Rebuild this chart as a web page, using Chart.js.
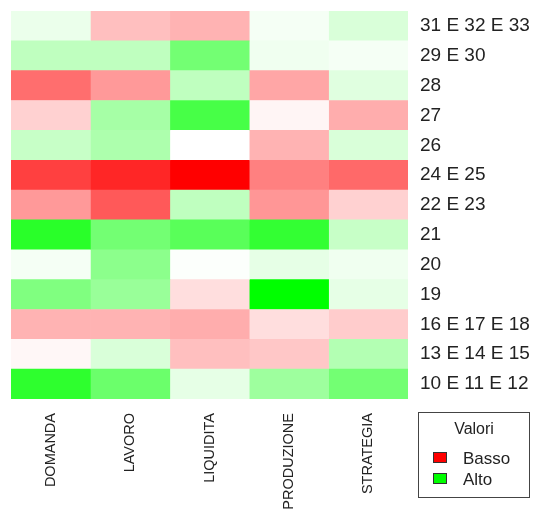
<!DOCTYPE html>
<html>
<head>
<meta charset="utf-8">
<script src="https://cdn.jsdelivr.net/npm/chart.js@4.4.1/dist/chart.umd.min.js"></script>
<style>
  body { margin: 0; background: #fff; }
  #wrap { position: relative; width: 535px; height: 511px; }
  #legend {
    position: absolute; left: 418px; top: 412px; width: 112px; height: 86px;
    border: 1px solid #444; box-sizing: border-box;
    font-family: "Liberation Sans", Arial, sans-serif; color: #222;
  }
  #legend .title { position: absolute; left: 0; right: 0; top: 7px; text-align: center; font-size: 16px; }
  #legend .item { position: absolute; left: 14px; font-size: 17px; line-height: 20px; }
  #legend .sw { display: inline-block; width: 12px; height: 9px; border: 1px solid #333; margin-right: 16px; vertical-align: 1px; }
</style>
</head>
<body>
<div id="wrap">
  <canvas id="chart" width="535" height="511"></canvas>
  <div id="legend">
    <div class="title">Valori</div>
    <div class="item" style="top:36px"><span class="sw" style="background:#f00"></span>Basso</div>
    <div class="item" style="top:57px"><span class="sw" style="background:#0f0"></span>Alto</div>
  </div>
</div>
<script>
// rows, top to bottom
const rows = ['31 E 32 E 33', '29 E 30', '28', '27', '26', '24 E 25', '22 E 23',
  '21', '20', '19', '16 E 17 E 18', '13 E 14 E 15', '10 E 11 E 12']
const columns = ['DOMANDA', 'LAVORO', 'LIQUIDITA', 'PRODUZIONE', 'STRATEGIA']

// values: -1 = basso (red), +1 = alto (green)
const domanda    = [0.08, 0.25, -0.57, -0.18, 0.22, -0.75, -0.40, 0.84, 0.04, 0.50, -0.30, -0.03, 0.82]
const lavoro     = [-0.25, 0.25, -0.40, 0.35, 0.32, -0.85, -0.65, 0.55, 0.45, 0.40, -0.30, 0.15, 0.58]
const liquidita  = [-0.30, 0.55, 0.25, 0.72, 0.00, -1.00, 0.25, 0.65, 0.01, -0.13, -0.32, -0.25, 0.10]
const produzione = [0.04, 0.06, -0.35, -0.04, -0.30, -0.50, -0.41, 0.80, 0.10, 1.00, -0.13, -0.22, 0.38]
const strategia  = [0.15, 0.04, 0.12, -0.32, 0.15, -0.59, -0.18, 0.22, 0.06, 0.10, -0.20, 0.30, 0.55]

const values = [domanda, lavoro, liquidita, produzione, strategia]

function cellColor(v) {
  const k = Math.round(255 * (1 - Math.abs(v)))
  return v >= 0 ? `rgb(${k},255,${k})` : `rgb(255,${k},${k})`
}

new Chart(document.getElementById('chart'), {
  type: 'bar',
  data: {
    labels: rows,
    datasets: columns.map((name, i) => ({
      label: name,
      data: rows.map(() => 1),
      backgroundColor: values[i].map(cellColor),
      borderWidth: 0,
      barPercentage: 1,
      categoryPercentage: 1
    }))
  },
  options: {
    indexAxis: 'y',
    responsive: false,
    animation: false,
    layout: { padding: { left: 11, top: 11, right: 0, bottom: 0 } },
    plugins: { legend: { display: false }, tooltip: { enabled: false } },
    scales: {
      x: { type: 'linear', stacked: true, min: 0, max: 5, display: false },
      y: {
        stacked: true,
        position: 'right',
        grid: { display: false, drawTicks: false },
        border: { display: false },
        ticks: { padding: 12, color: '#222', font: { family: 'Liberation Sans', size: 19 } },
        afterFit: s => { s.width = 127; s.paddingTop = 0; s.paddingBottom = 0 }
      },
      x2: {
        type: 'category',
        labels: columns,
        position: 'bottom',
        offset: true,
        grid: { display: false, drawTicks: false },
        border: { display: false },
        ticks: {
          autoSkip: false, minRotation: 90, maxRotation: 90, padding: 14,
          color: '#222', font: { family: 'Liberation Sans', size: 14.5 }
        },
        afterFit: s => { s.height = 112; s.paddingLeft = 0; s.paddingRight = 0 }
      }
    }
  }
})
</script>
</body>
</html>
